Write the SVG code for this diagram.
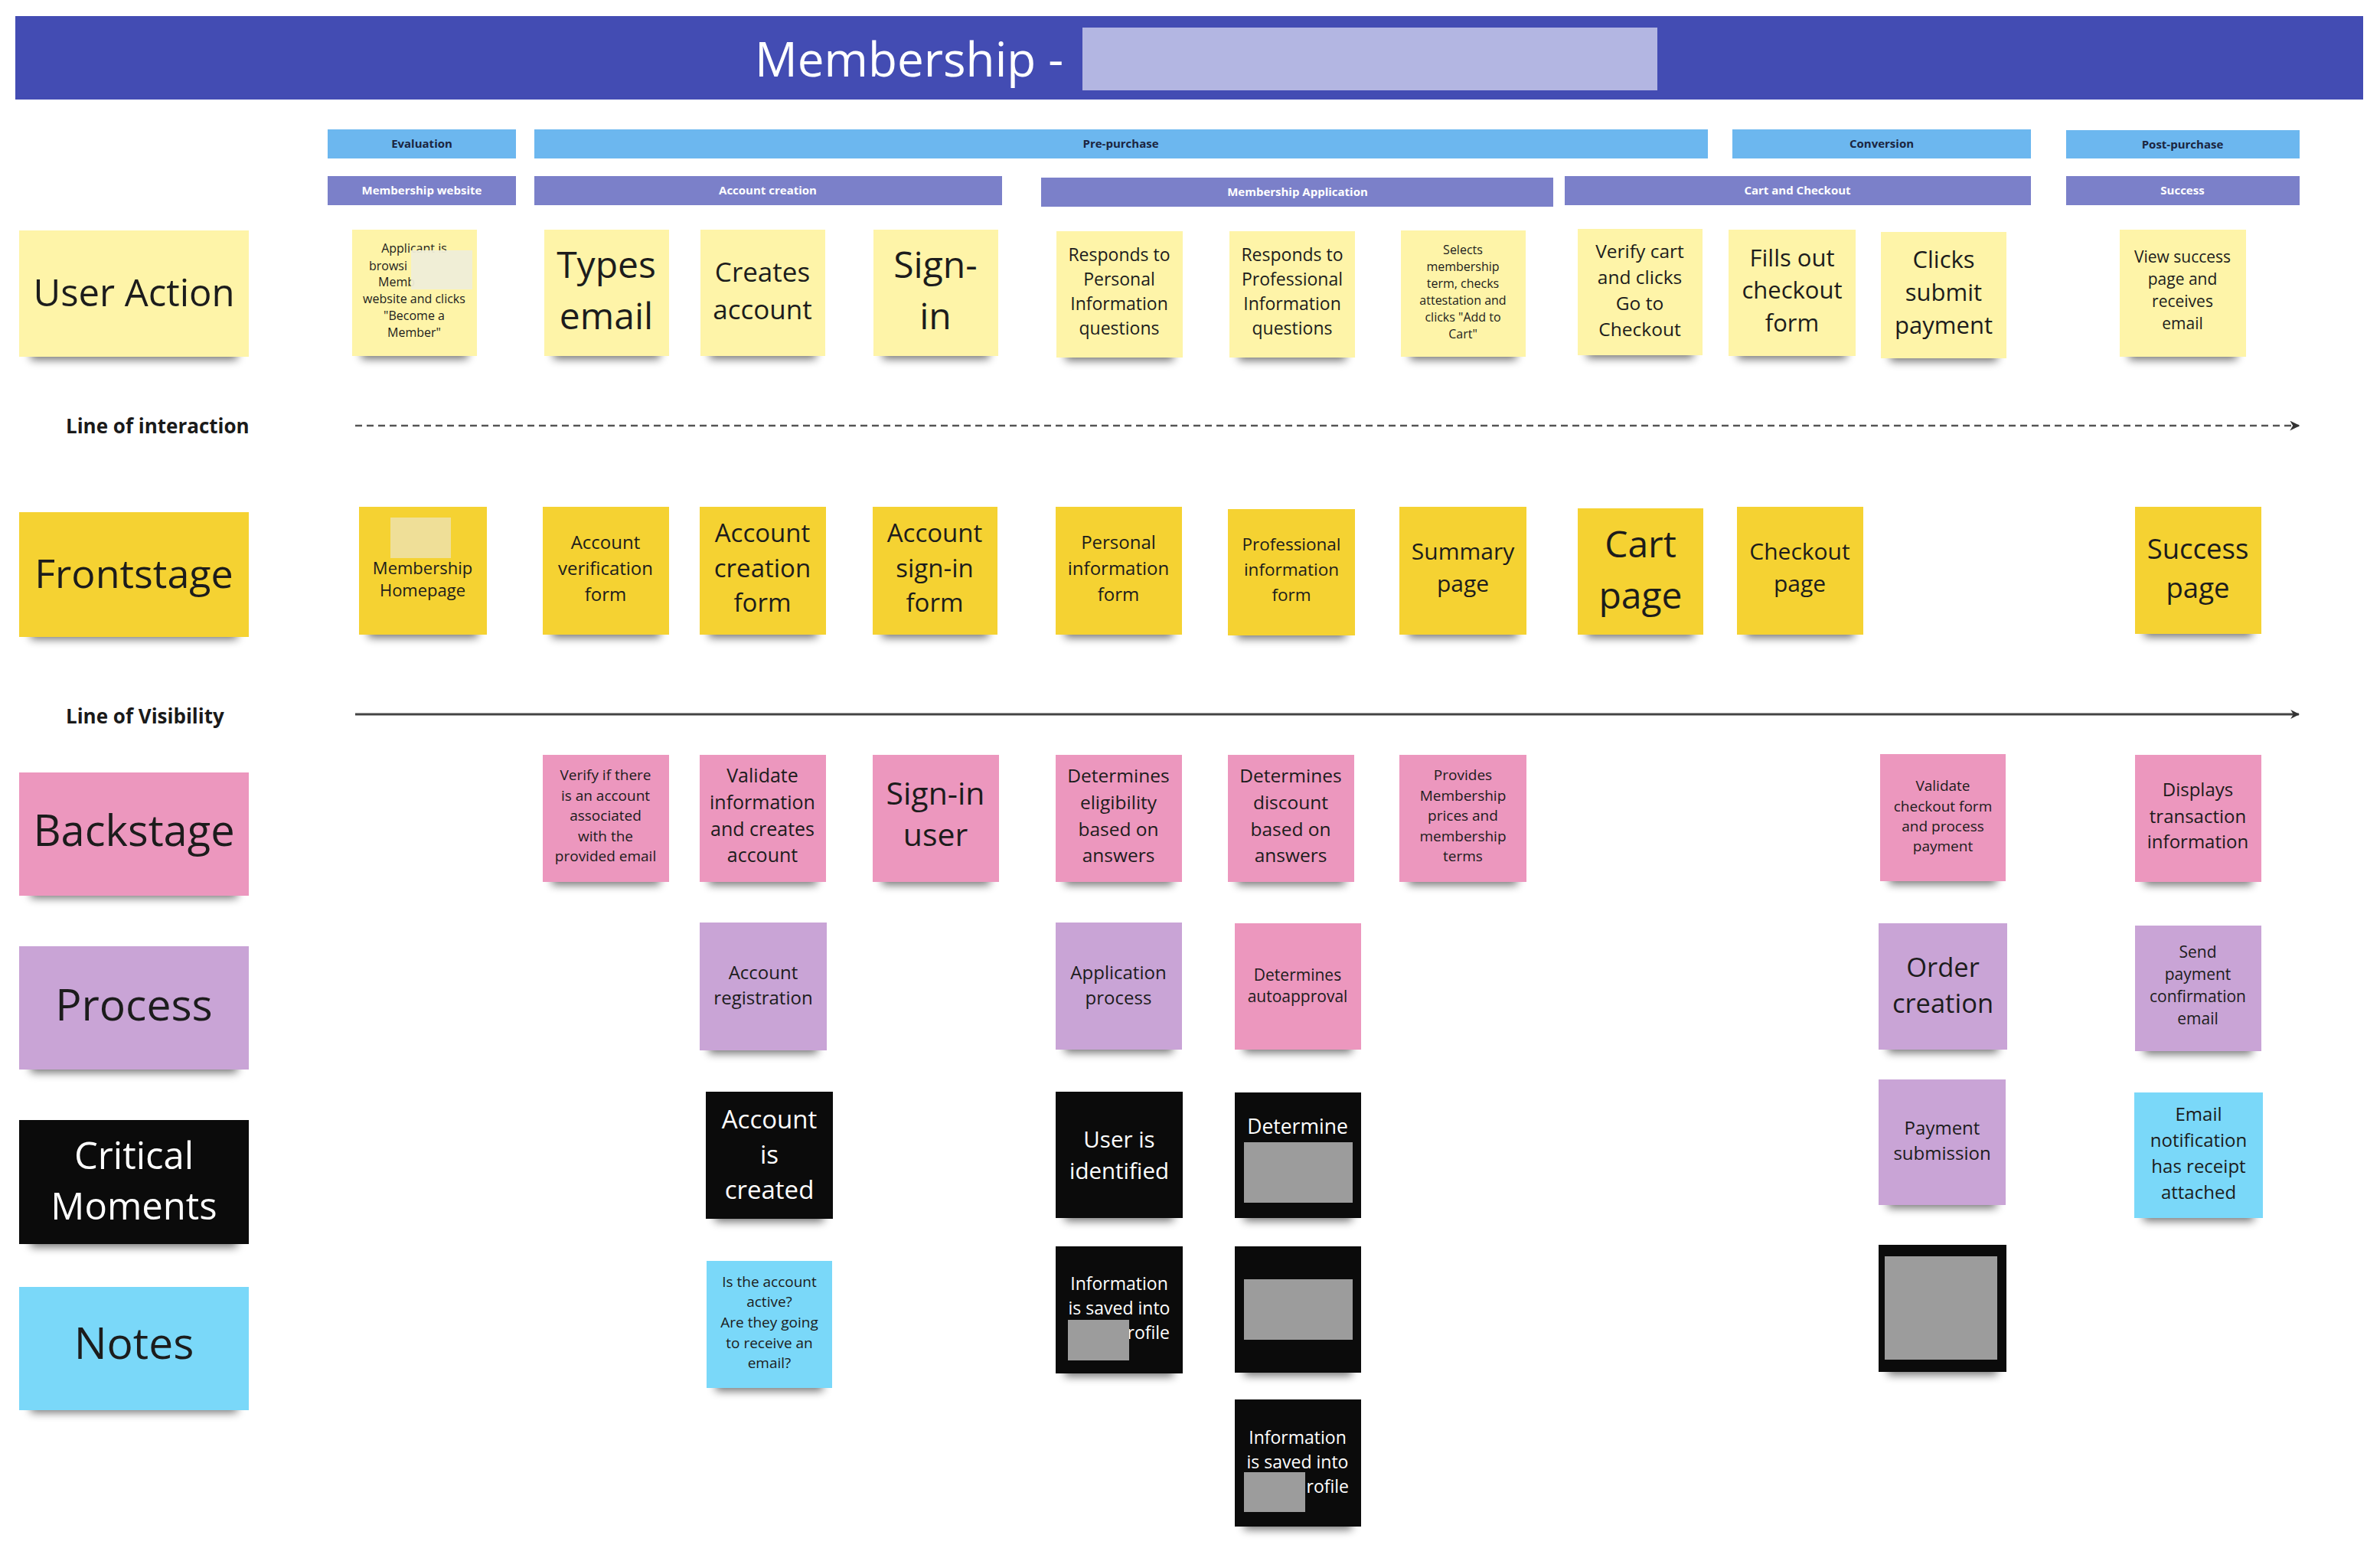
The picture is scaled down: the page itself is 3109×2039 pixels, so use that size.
<svg xmlns="http://www.w3.org/2000/svg" width="3109" height="2039" viewBox="0 0 3109 2039">
<defs>
<filter id="blur" x="-20%" y="-100%" width="140%" height="300%"><feGaussianBlur stdDeviation="6"/></filter>
<marker id="arr" viewBox="0 0 10 10" refX="9" refY="5" markerWidth="13" markerHeight="13" orient="auto" markerUnits="userSpaceOnUse"><path d="M0,0 L10,5 L0,10 L3,5 z" fill="#333"/></marker>
<marker id="arr2" viewBox="0 0 10 10" refX="9" refY="5" markerWidth="12" markerHeight="12" orient="auto" markerUnits="userSpaceOnUse"><path d="M0,0 L10,5 L0,10 L3,5 z" fill="#333"/></marker>
</defs>
<style>
text{font-family:"Open Sans","Liberation Sans",sans-serif;}
.t{text-anchor:middle;fill:#1c1c1c;}
.wt{text-anchor:middle;fill:#ffffff;}
.ua{fill:#fef4a8;}
.fs{fill:#f5d232;}
.bs{fill:#ec97be;}
.pr{fill:#c9a4d6;}
.cm{fill:#0b0b0b;}
.nt{fill:#7ad8f9;}
.sh{fill:#000;opacity:0.55;filter:url(#blur);}
.patch{fill:#9c9c9c;}
.phase{fill:#6cb7ef;}
.sub{fill:#7b80c9;}
.pt{font-size:15px;font-weight:bold;fill:#1b2540;text-anchor:middle;}
.st{font-size:15px;font-weight:bold;fill:#ffffff;text-anchor:middle;}
.ll{font-size:26px;font-weight:bold;fill:#1a1a1a;}
</style>
<rect width="3109" height="2039" fill="#ffffff"/>

<g id="header">
<rect x="20" y="21" width="3067" height="109" fill="#434cb3"/>
<text x="986" y="100" font-size="62" fill="#ffffff">Membership -</text>
<rect x="1414" y="36" width="751" height="82" fill="#b3b6e2"/>
</g>

<g id="phases">
<g id="ph-evaluation"><rect class="phase" x="428" y="169" width="246" height="38"/><text class="pt" x="551" y="193">Evaluation</text></g>
<g id="ph-prepurchase"><rect class="phase" x="698" y="169" width="1533" height="38"/><text class="pt" x="1464" y="193">Pre-purchase</text></g>
<g id="ph-conversion"><rect class="phase" x="2263" y="169" width="390" height="38"/><text class="pt" x="2458" y="193">Conversion</text></g>
<g id="ph-postpurchase"><rect class="phase" x="2699" y="170" width="305" height="37"/><text class="pt" x="2851" y="194">Post-purchase</text></g>
<g id="sub-website"><rect class="sub" x="428" y="230" width="246" height="38"/><text class="st" x="551" y="254">Membership website</text></g>
<g id="sub-account"><rect class="sub" x="698" y="230" width="611" height="38"/><text class="st" x="1003" y="254">Account creation</text></g>
<g id="sub-application"><rect class="sub" x="1360" y="232" width="669" height="38"/><text class="st" x="1695" y="256">Membership Application</text></g>
<g id="sub-cart"><rect class="sub" x="2044" y="230" width="609" height="38"/><text class="st" x="2348" y="254">Cart and Checkout</text></g>
<g id="sub-success"><rect class="sub" x="2699" y="230" width="305" height="38"/><text class="st" x="2851" y="254">Success</text></g>
</g>

<g id="row-labels">
<g id="lbl-user-action"><rect class="sh" x="40" y="452" width="270" height="18"/><rect class="ua" x="25" y="301" width="300" height="165"/><text class="t" x="175" y="400" font-size="49">User Action</text></g>
<g id="lbl-frontstage"><rect class="sh" x="40" y="817" width="270" height="18"/><rect class="fs" x="25" y="669" width="300" height="163"/><text class="t" x="175" y="768" font-size="52">Frontstage</text></g>
<g id="lbl-backstage"><rect class="sh" x="40" y="1155" width="270" height="18"/><rect class="bs" x="25" y="1009" width="300" height="161"/><text class="t" x="175" y="1105" font-size="56">Backstage</text></g>
<g id="lbl-process"><rect class="sh" x="40" y="1383" width="270" height="18"/><rect class="pr" x="25" y="1236" width="300" height="161"/><text class="t" x="175" y="1333" font-size="57">Process</text></g>
<g id="lbl-critical"><rect class="sh" x="40" y="1611" width="270" height="18"/><rect class="cm" x="25" y="1463" width="300" height="162"/><text class="wt" x="175" y="1527" font-size="49">Critical</text><text class="wt" x="175" y="1593" font-size="49">Moments</text></g>
<g id="lbl-notes"><rect class="sh" x="40" y="1827" width="270" height="18"/><rect class="nt" x="25" y="1681" width="300" height="161"/><text class="t" x="175" y="1775" font-size="57">Notes</text></g>
<text class="ll" x="86" y="566">Line of interaction</text>
<text class="ll" x="86" y="945">Line of Visibility</text>
</g>

<g id="connectors">
<line x1="464" y1="556" x2="3003" y2="556" stroke="#555" stroke-width="2.5" stroke-dasharray="9,6" marker-end="url(#arr)"/>
<line x1="464" y1="933" x2="3003" y2="933" stroke="#444" stroke-width="3" marker-end="url(#arr2)"/>
</g>

<g id="user-actions">
<g id="ua-applicant"><rect class="sh" x="472" y="451" width="139" height="18"/><rect class="ua" x="460" y="300" width="163" height="165"/>
<text class="t" font-size="16"><tspan x="541" y="330">Applicant is</tspan><tspan x="541" y="396">website and clicks</tspan><tspan x="541" y="418">"Become a</tspan><tspan x="541" y="440">Member"</tspan></text>
<text font-size="16" fill="#1c1c1c"><tspan x="482" y="353">browsi</tspan><tspan x="494" y="374">Memb</tspan></text>
<rect x="537" y="327" width="80" height="51" fill="#efedd8" opacity="0.95"/></g>
<g id="ua-types"><rect class="sh" x="723" y="451" width="139" height="18"/><rect class="ua" x="711" y="300" width="163" height="165"/><text class="t" font-size="48"><tspan x="792" y="363">Types</tspan><tspan x="792" y="430">email</tspan></text></g>
<g id="ua-creates"><rect class="sh" x="927" y="451" width="139" height="18"/><rect class="ua" x="915" y="300" width="163" height="165"/><text class="t" font-size="35"><tspan x="996" y="368">Creates</tspan><tspan x="996" y="417">account</tspan></text></g>
<g id="ua-signin"><rect class="sh" x="1153" y="451" width="139" height="18"/><rect class="ua" x="1141" y="300" width="163" height="165"/><text class="t" font-size="48"><tspan x="1222" y="363">Sign-</tspan><tspan x="1222" y="430">in</tspan></text></g>
<g id="ua-personal"><rect class="sh" x="1392" y="453" width="141" height="18"/><rect class="ua" x="1380" y="302" width="165" height="165"/><text class="t" font-size="23"><tspan x="1462" y="341">Responds to</tspan><tspan x="1462" y="373">Personal</tspan><tspan x="1462" y="405">Information</tspan><tspan x="1462" y="437">questions</tspan></text></g>
<g id="ua-professional"><rect class="sh" x="1618" y="453" width="140" height="18"/><rect class="ua" x="1606" y="302" width="164" height="165"/><text class="t" font-size="23"><tspan x="1688" y="341">Responds to</tspan><tspan x="1688" y="373">Professional</tspan><tspan x="1688" y="405">Information</tspan><tspan x="1688" y="437">questions</tspan></text></g>
<g id="ua-selects"><rect class="sh" x="1842" y="452" width="139" height="18"/><rect class="ua" x="1830" y="301" width="163" height="165"/><text class="t" font-size="16"><tspan x="1911" y="332">Selects</tspan><tspan x="1911" y="354">membership</tspan><tspan x="1911" y="376">term, checks</tspan><tspan x="1911" y="398">attestation and</tspan><tspan x="1911" y="420">clicks "Add to</tspan><tspan x="1911" y="442">Cart"</tspan></text></g>
<g id="ua-verify"><rect class="sh" x="2073" y="450" width="139" height="18"/><rect class="ua" x="2061" y="299" width="163" height="165"/><text class="t" font-size="24.5"><tspan x="2142" y="337">Verify cart</tspan><tspan x="2142" y="371">and clicks</tspan><tspan x="2142" y="405">Go to</tspan><tspan x="2142" y="439">Checkout</tspan></text></g>
<g id="ua-fills"><rect class="sh" x="2270" y="451" width="142" height="18"/><rect class="ua" x="2258" y="300" width="166" height="165"/><text class="t" font-size="31"><tspan x="2341" y="348">Fills out</tspan><tspan x="2341" y="390">checkout</tspan><tspan x="2341" y="433">form</tspan></text></g>
<g id="ua-clicks"><rect class="sh" x="2469" y="454" width="140" height="18"/><rect class="ua" x="2457" y="303" width="164" height="165"/><text class="t" font-size="31"><tspan x="2539" y="350">Clicks</tspan><tspan x="2539" y="393">submit</tspan><tspan x="2539" y="436">payment</tspan></text></g>
<g id="ua-view"><rect class="sh" x="2781" y="452" width="141" height="18"/><rect class="ua" x="2769" y="300" width="165" height="166"/><text class="t" font-size="21"><tspan x="2851" y="343">View success</tspan><tspan x="2851" y="372">page and</tspan><tspan x="2851" y="401">receives</tspan><tspan x="2851" y="430">email</tspan></text></g>
</g>

<g id="frontstage">
<g id="fs-home"><rect class="sh" x="481" y="815" width="143" height="18"/><rect class="fs" x="469" y="662" width="167" height="167"/><rect x="510" y="676" width="79" height="53" fill="#efdf98"/><text class="t" font-size="22"><tspan x="552" y="750">Membership</tspan><tspan x="552" y="779">Homepage</tspan></text></g>
<g id="fs-verification"><rect class="sh" x="721" y="815" width="141" height="18"/><rect class="fs" x="709" y="662" width="165" height="167"/><text class="t" font-size="24"><tspan x="791" y="717">Account</tspan><tspan x="791" y="751">verification</tspan><tspan x="791" y="785">form</tspan></text></g>
<g id="fs-creation"><rect class="sh" x="926" y="815" width="141" height="18"/><rect class="fs" x="914" y="662" width="165" height="167"/><text class="t" font-size="33"><tspan x="996" y="708">Account</tspan><tspan x="996" y="754">creation</tspan><tspan x="996" y="799">form</tspan></text></g>
<g id="fs-signin"><rect class="sh" x="1152" y="815" width="139" height="18"/><rect class="fs" x="1140" y="662" width="163" height="167"/><text class="t" font-size="33"><tspan x="1221" y="708">Account</tspan><tspan x="1221" y="754">sign-in</tspan><tspan x="1221" y="799">form</tspan></text></g>
<g id="fs-personal"><rect class="sh" x="1391" y="815" width="141" height="18"/><rect class="fs" x="1379" y="662" width="165" height="167"/><text class="t" font-size="24"><tspan x="1461" y="717">Personal</tspan><tspan x="1461" y="751">information</tspan><tspan x="1461" y="785">form</tspan></text></g>
<g id="fs-professional"><rect class="sh" x="1616" y="816" width="142" height="18"/><rect class="fs" x="1604" y="665" width="166" height="165"/><text class="t" font-size="22.5"><tspan x="1687" y="719">Professional</tspan><tspan x="1687" y="752">information</tspan><tspan x="1687" y="785">form</tspan></text></g>
<g id="fs-summary"><rect class="sh" x="1840" y="815" width="142" height="18"/><rect class="fs" x="1828" y="662" width="166" height="167"/><text class="t" font-size="30"><tspan x="1911" y="731">Summary</tspan><tspan x="1911" y="773">page</tspan></text></g>
<g id="fs-cart"><rect class="sh" x="2073" y="815" width="140" height="18"/><rect class="fs" x="2061" y="664" width="164" height="165"/><text class="t" font-size="48"><tspan x="2143" y="728">Cart</tspan><tspan x="2143" y="795">page</tspan></text></g>
<g id="fs-checkout"><rect class="sh" x="2281" y="815" width="141" height="18"/><rect class="fs" x="2269" y="662" width="165" height="167"/><text class="t" font-size="30"><tspan x="2351" y="731">Checkout</tspan><tspan x="2351" y="773">page</tspan></text></g>
<g id="fs-success"><rect class="sh" x="2801" y="814" width="141" height="18"/><rect class="fs" x="2789" y="662" width="165" height="166"/><text class="t" font-size="36.5"><tspan x="2871" y="730">Success</tspan><tspan x="2871" y="781">page</tspan></text></g>
</g>

<g id="backstage">
<g id="bs-verify"><rect class="sh" x="721" y="1138" width="141" height="18"/><rect class="bs" x="709" y="986" width="165" height="166"/><text class="t" font-size="19"><tspan x="791" y="1019">Verify if there</tspan><tspan x="791" y="1046">is an account</tspan><tspan x="791" y="1072">associated</tspan><tspan x="791" y="1099">with the</tspan><tspan x="791" y="1125">provided email</tspan></text></g>
<g id="bs-validate"><rect class="sh" x="926" y="1138" width="141" height="18"/><rect class="bs" x="914" y="986" width="165" height="166"/><text class="t" font-size="25"><tspan x="996" y="1022">Validate</tspan><tspan x="996" y="1057">information</tspan><tspan x="996" y="1092">and creates</tspan><tspan x="996" y="1126">account</tspan></text></g>
<g id="bs-signin"><rect class="sh" x="1152" y="1138" width="141" height="18"/><rect class="bs" x="1140" y="986" width="165" height="166"/><text class="t" font-size="41"><tspan x="1222" y="1051">Sign-in</tspan><tspan x="1222" y="1105">user</tspan></text></g>
<g id="bs-eligibility"><rect class="sh" x="1391" y="1138" width="141" height="18"/><rect class="bs" x="1379" y="986" width="165" height="166"/><text class="t" font-size="24.5"><tspan x="1461" y="1022">Determines</tspan><tspan x="1461" y="1057">eligibility</tspan><tspan x="1461" y="1092">based on</tspan><tspan x="1461" y="1126">answers</tspan></text></g>
<g id="bs-discount"><rect class="sh" x="1616" y="1138" width="141" height="18"/><rect class="bs" x="1604" y="986" width="165" height="166"/><text class="t" font-size="24.5"><tspan x="1686" y="1022">Determines</tspan><tspan x="1686" y="1057">discount</tspan><tspan x="1686" y="1092">based on</tspan><tspan x="1686" y="1126">answers</tspan></text></g>
<g id="bs-provides"><rect class="sh" x="1840" y="1138" width="142" height="18"/><rect class="bs" x="1828" y="986" width="166" height="166"/><text class="t" font-size="19"><tspan x="1911" y="1019">Provides</tspan><tspan x="1911" y="1046">Membership</tspan><tspan x="1911" y="1072">prices and</tspan><tspan x="1911" y="1099">membership</tspan><tspan x="1911" y="1125">terms</tspan></text></g>
<g id="bs-validate-checkout"><rect class="sh" x="2468" y="1137" width="140" height="18"/><rect class="bs" x="2456" y="985" width="164" height="166"/><text class="t" font-size="19"><tspan x="2538" y="1033">Validate</tspan><tspan x="2538" y="1060">checkout form</tspan><tspan x="2538" y="1086">and process</tspan><tspan x="2538" y="1112">payment</tspan></text></g>
<g id="bs-displays"><rect class="sh" x="2801" y="1138" width="141" height="18"/><rect class="bs" x="2789" y="986" width="165" height="166"/><text class="t" font-size="24"><tspan x="2871" y="1040">Displays</tspan><tspan x="2871" y="1075">transaction</tspan><tspan x="2871" y="1108">information</tspan></text></g>
</g>

<g id="process">
<g id="pr-account"><rect class="sh" x="926" y="1358" width="142" height="18"/><rect class="pr" x="914" y="1205" width="166" height="167"/><text class="t" font-size="24"><tspan x="997" y="1279">Account</tspan><tspan x="997" y="1312">registration</tspan></text></g>
<g id="pr-application"><rect class="sh" x="1391" y="1357" width="141" height="18"/><rect class="pr" x="1379" y="1205" width="165" height="166"/><text class="t" font-size="24"><tspan x="1461" y="1279">Application</tspan><tspan x="1461" y="1312">process</tspan></text></g>
<g id="pr-autoapproval"><rect class="sh" x="1625" y="1357" width="141" height="18"/><rect class="bs" x="1613" y="1206" width="165" height="165"/><text class="t" font-size="21"><tspan x="1695" y="1281">Determines</tspan><tspan x="1695" y="1309">autoapproval</tspan></text></g>
<g id="pr-order"><rect class="sh" x="2466" y="1357" width="144" height="18"/><rect class="pr" x="2454" y="1206" width="168" height="165"/><text class="t" font-size="34.5"><tspan x="2538" y="1276">Order</tspan><tspan x="2538" y="1323">creation</tspan></text></g>
<g id="pr-send"><rect class="sh" x="2801" y="1359" width="141" height="18"/><rect class="pr" x="2789" y="1209" width="165" height="164"/><text class="t" font-size="21"><tspan x="2871" y="1251">Send</tspan><tspan x="2871" y="1280">payment</tspan><tspan x="2871" y="1309">confirmation</tspan><tspan x="2871" y="1338">email</tspan></text></g>
<g id="pr-payment"><rect class="sh" x="2466" y="1560" width="142" height="18"/><rect class="pr" x="2454" y="1410" width="166" height="164"/><text class="t" font-size="24"><tspan x="2537" y="1482">Payment</tspan><tspan x="2537" y="1515">submission</tspan></text></g>
</g>

<g id="critical-moments">
<g id="cm-account-created"><rect class="sh" x="934" y="1578" width="142" height="18"/><rect class="cm" x="922" y="1426" width="166" height="166"/><text class="wt" font-size="33"><tspan x="1005" y="1474">Account</tspan><tspan x="1005" y="1520">is</tspan><tspan x="1005" y="1566">created</tspan></text></g>
<g id="cm-user-identified"><rect class="sh" x="1391" y="1577" width="142" height="18"/><rect class="cm" x="1379" y="1426" width="166" height="165"/><text class="wt" font-size="29.5"><tspan x="1462" y="1499">User is</tspan><tspan x="1462" y="1540">identified</tspan></text></g>
<g id="cm-determine"><rect class="sh" x="1625" y="1577" width="141" height="18"/><rect class="cm" x="1613" y="1427" width="165" height="164"/><text class="wt" font-size="26.5" x="1695" y="1481">Determine</text><rect class="patch" x="1625" y="1492" width="142" height="79"/></g>
<g id="cm-info-saved-1"><rect class="sh" x="1391" y="1780" width="142" height="18"/><rect class="cm" x="1379" y="1628" width="166" height="166"/><text class="wt" font-size="23"><tspan x="1462" y="1685">Information</tspan><tspan x="1462" y="1717">is saved into</tspan></text><text font-size="23" fill="#fff" text-anchor="end" x="1528" y="1749">rofile</text><rect class="patch" x="1395" y="1724" width="80" height="53"/></g>
<g id="cm-hidden-1"><rect class="sh" x="1625" y="1779" width="141" height="18"/><rect class="cm" x="1613" y="1628" width="165" height="165"/><rect class="patch" x="1625" y="1671" width="142" height="79"/></g>
<g id="cm-info-saved-2"><rect class="sh" x="1625" y="1980" width="141" height="18"/><rect class="cm" x="1613" y="1828" width="165" height="166"/><text class="wt" font-size="23"><tspan x="1695" y="1886">Information</tspan><tspan x="1695" y="1918">is saved into</tspan></text><text font-size="23" fill="#fff" text-anchor="end" x="1762" y="1950">rofile</text><rect class="patch" x="1625" y="1923" width="80" height="52"/></g>
<g id="cm-hidden-2"><rect class="sh" x="2466" y="1778" width="143" height="18"/><rect class="cm" x="2454" y="1626" width="167" height="166"/><rect class="patch" x="2462" y="1641" width="147" height="135"/></g>
</g>

<g id="notes">
<g id="nt-account-active"><rect class="sh" x="935" y="1799" width="140" height="18"/><rect class="nt" x="923" y="1647" width="164" height="166"/><text class="t" font-size="19"><tspan x="1005" y="1681">Is the account</tspan><tspan x="1005" y="1707">active?</tspan><tspan x="1005" y="1734">Are they going</tspan><tspan x="1005" y="1761">to receive an</tspan><tspan x="1005" y="1787">email?</tspan></text></g>
<g id="nt-email-receipt"><rect class="sh" x="2800" y="1577" width="144" height="18"/><rect class="nt" x="2788" y="1427" width="168" height="164"/><text class="t" font-size="24"><tspan x="2872" y="1464">Email</tspan><tspan x="2872" y="1498">notification</tspan><tspan x="2872" y="1532">has receipt</tspan><tspan x="2872" y="1566">attached</tspan></text></g>
</g>
</svg>
